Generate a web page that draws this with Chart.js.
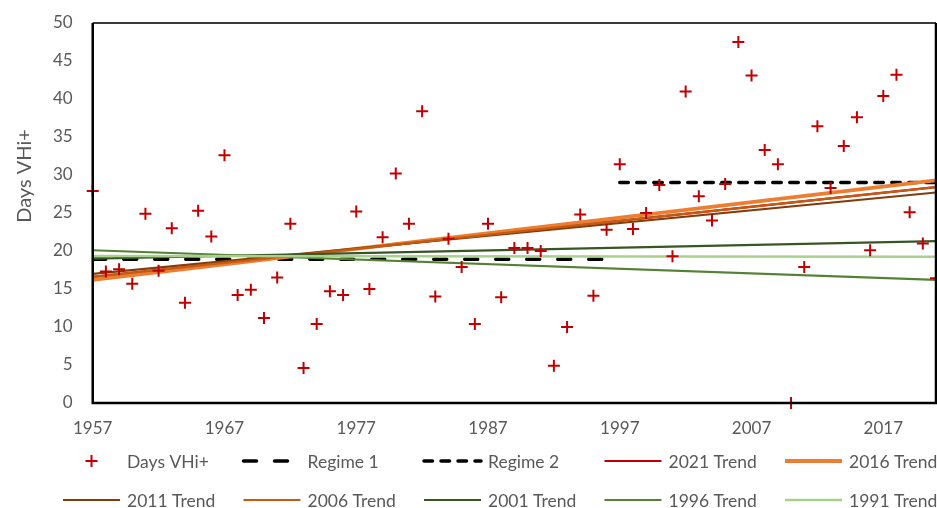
<!DOCTYPE html>
<html>
<head>
<meta charset="utf-8">
<script src="https://cdn.jsdelivr.net/npm/chart.js@4.4.1/dist/chart.umd.min.js"></script>
<style>
  html, body { margin: 0; padding: 0; background: #fff; }
  #wrap { width: 937px; height: 508px; }
</style>
</head>
<body>
<div id="wrap"><canvas id="chart" width="937" height="508"></canvas></div>
<script>
// Days VHi+ per year
const YEARS = [];
for (let y = 1957; y <= 2021; y++) YEARS.push(y);
const DAYS = [
  27.9, 17.3, 17.6, 15.7, 24.9, 17.4, 23.0, 13.2, 25.3, 21.9,
  32.6, 14.2, 14.9, 11.2, 16.5, 23.6, 4.6, 10.4, 14.7, 14.2,
  25.2, 15.0, 21.8, 30.2, 23.6, 38.4, 14.0, 21.6, 17.9, 10.4,
  23.6, 13.9, 20.4, 20.4, 20.0, 4.9, 10.0, 24.8, 14.1, 22.8,
  31.4, 22.9, 25.0, 28.7, 19.3, 41.0, 27.2, 24.0, 28.8, 47.5,
  43.1, 33.3, 31.4, 0.0, 17.9, 36.4, 28.3, 33.8, 37.6, 20.1,
  40.4, 43.2, 25.1, 21.0, 16.4
];

// regime means
const REGIME1_YEARS = [1957, 1996];
const REGIME1 = [18.9, 18.9];
const REGIME2_YEARS = [1997, 2021];
const REGIME2 = [29.0, 29.0];

// trend lines, value at first and last year
const TREND_YEARS = [1957, 2021];
const TREND_2021 = [16.6, 28.4];
const TREND_2016 = [16.2, 29.3];
const TREND_2011 = [17.0, 27.7];
const TREND_2006 = [16.6, 28.4];
const TREND_2001 = [19.0, 21.3];
const TREND_1996 = [20.1, 16.2];
const TREND_1991 = [19.35, 19.25];

const X_TICKS = [1957, 1967, 1977, 1987, 1997, 2007, 2017];
const Y_TITLE = 'Days VHi+';

const TEXT_COLOR = '#595959';
const FONT = { family: 'Lato', size: 17 };

// Excel puts the axis title a bit above the middle
const Y_TITLE_X = 25;
const Y_TITLE_Y = 176;

// legend grid (Excel style, 5 columns)
const LEGEND_X0 = 63;
const LEGEND_COL = 180.5;
const LEGEND_ROWS_Y = [461, 500];
const LEGEND_KEY = 57;
const LEGEND_GAP = 7;

function xy(xs, ys) {
  return xs.map((x, i) => ({ x: x, y: ys[i] }));
}

function lineSet(label, xs, ys, color, width, order, dash) {
  return {
    label: label,
    data: xy(xs, ys),
    showLine: true,
    borderColor: color,
    backgroundColor: color,
    borderWidth: width,
    borderDash: dash || [],
    borderCapStyle: dash ? 'round' : 'butt',
    pointRadius: 0,
    order: order
  };
}

const plotFrame = {
  id: 'plotFrame',
  afterDatasetsDraw(chart) {
    const a = chart.chartArea;
    const ctx = chart.ctx;
    ctx.save();
    ctx.lineWidth = 2;
    ctx.strokeStyle = '#3a3a3a';
    ctx.beginPath();
    ctx.moveTo(a.left, a.top);
    ctx.lineTo(a.right, a.top);
    ctx.stroke();
    ctx.strokeStyle = '#000';
    ctx.lineWidth = 2.5;
    ctx.beginPath();
    ctx.moveTo(a.left, a.top);
    ctx.lineTo(a.left, a.bottom);
    ctx.lineTo(a.right, a.bottom);
    ctx.lineTo(a.right, a.top);
    ctx.stroke();
    ctx.restore();
  }
};

const axisTitle = {
  id: 'axisTitle',
  afterDraw(chart) {
    const ctx = chart.ctx;
    ctx.save();
    ctx.translate(Y_TITLE_X, Y_TITLE_Y);
    ctx.rotate(-Math.PI / 2);
    ctx.font = '20px Lato';
    ctx.fillStyle = TEXT_COLOR;
    ctx.textAlign = 'center';
    ctx.textBaseline = 'middle';
    ctx.fillText(Y_TITLE, 0, 0);
    ctx.restore();
  }
};

const gridLegend = {
  id: 'gridLegend',
  afterDraw(chart) {
    const ctx = chart.ctx;
    ctx.save();
    ctx.font = '17.5px Lato';
    ctx.textBaseline = 'middle';
    chart.data.datasets.forEach((ds, i) => {
      const x = LEGEND_X0 + (i % 5) * LEGEND_COL;
      const y = LEGEND_ROWS_Y[Math.floor(i / 5)];
      ctx.strokeStyle = ds.borderColor;
      ctx.beginPath();
      if (ds.showLine) {
        ctx.lineWidth = ds.borderWidth;
        ctx.setLineDash(ds.borderDash);
        ctx.lineCap = ds.borderCapStyle;
        ctx.moveTo(x, y);
        ctx.lineTo(x + LEGEND_KEY, y);
      } else {
        const cx = x + LEGEND_KEY / 2;
        ctx.lineWidth = ds.pointBorderWidth;
        ctx.moveTo(cx - ds.pointRadius, y);
        ctx.lineTo(cx + ds.pointRadius, y);
        ctx.moveTo(cx, y - ds.pointRadius);
        ctx.lineTo(cx, y + ds.pointRadius);
      }
      ctx.stroke();
      ctx.setLineDash([]);
      ctx.fillStyle = TEXT_COLOR;
      ctx.fillText(ds.label, x + LEGEND_KEY + LEGEND_GAP, y + 1);
    });
    ctx.restore();
  }
};

const datasets = [
  {
    label: 'Days VHi+',
    data: xy(YEARS, DAYS),
    pointStyle: 'cross',
    pointRadius: 6,
    pointBorderWidth: 2,
    borderColor: '#C00000',
    backgroundColor: '#C00000',
    showLine: false,
    clip: false,
    order: 0
  },
  lineSet('Regime 1', REGIME1_YEARS, REGIME1, '#000000', 3.5, 10, [13, 18]),
  lineSet('Regime 2', REGIME2_YEARS, REGIME2, '#000000', 3.5, 9, [8.5, 8.5]),
  lineSet('2021 Trend', TREND_YEARS, TREND_2021, '#C00000', 2.2, 8),
  lineSet('2016 Trend', TREND_YEARS, TREND_2016, '#ED7D31', 3.8, 7),
  lineSet('2011 Trend', TREND_YEARS, TREND_2011, '#843C0C', 2.2, 6),
  lineSet('2006 Trend', TREND_YEARS, TREND_2006, '#C55A11', 2.2, 5),
  lineSet('2001 Trend', TREND_YEARS, TREND_2001, '#375623', 2.2, 4),
  lineSet('1996 Trend', TREND_YEARS, TREND_1996, '#548235', 2.2, 3),
  lineSet('1991 Trend', TREND_YEARS, TREND_1991, '#A9D18E', 2.5, 2)
];

new Chart(document.getElementById('chart'), {
  type: 'scatter',
  data: { datasets: datasets },
  plugins: [plotFrame, axisTitle, gridLegend],
  options: {
    responsive: false,
    animation: false,
    layout: { autoPadding: false, padding: { top: 23, right: 1, left: 33, bottom: 54.6 } },
    scales: {
      x: {
        type: 'linear',
        min: 1957,
        max: 2021,
        afterBuildTicks: (axis) => { axis.ticks = X_TICKS.map(v => ({ value: v })); },
        grid: { display: false, drawTicks: false },
        border: { display: false },
        ticks: {
          color: TEXT_COLOR,
          font: FONT,
          padding: 15,
          maxRotation: 0,
          callback: (v) => String(v)
        }
      },
      y: {
        min: 0,
        max: 50,
        afterFit: (axis) => { axis.paddingTop = 0; },
        grid: { display: false, drawTicks: false },
        border: { display: false },
        ticks: { stepSize: 5, color: TEXT_COLOR, font: FONT, padding: 20 }
      }
    },
    plugins: {
      tooltip: { enabled: false },
      legend: { display: false }
    }
  }
});
</script>
</body>
</html>
